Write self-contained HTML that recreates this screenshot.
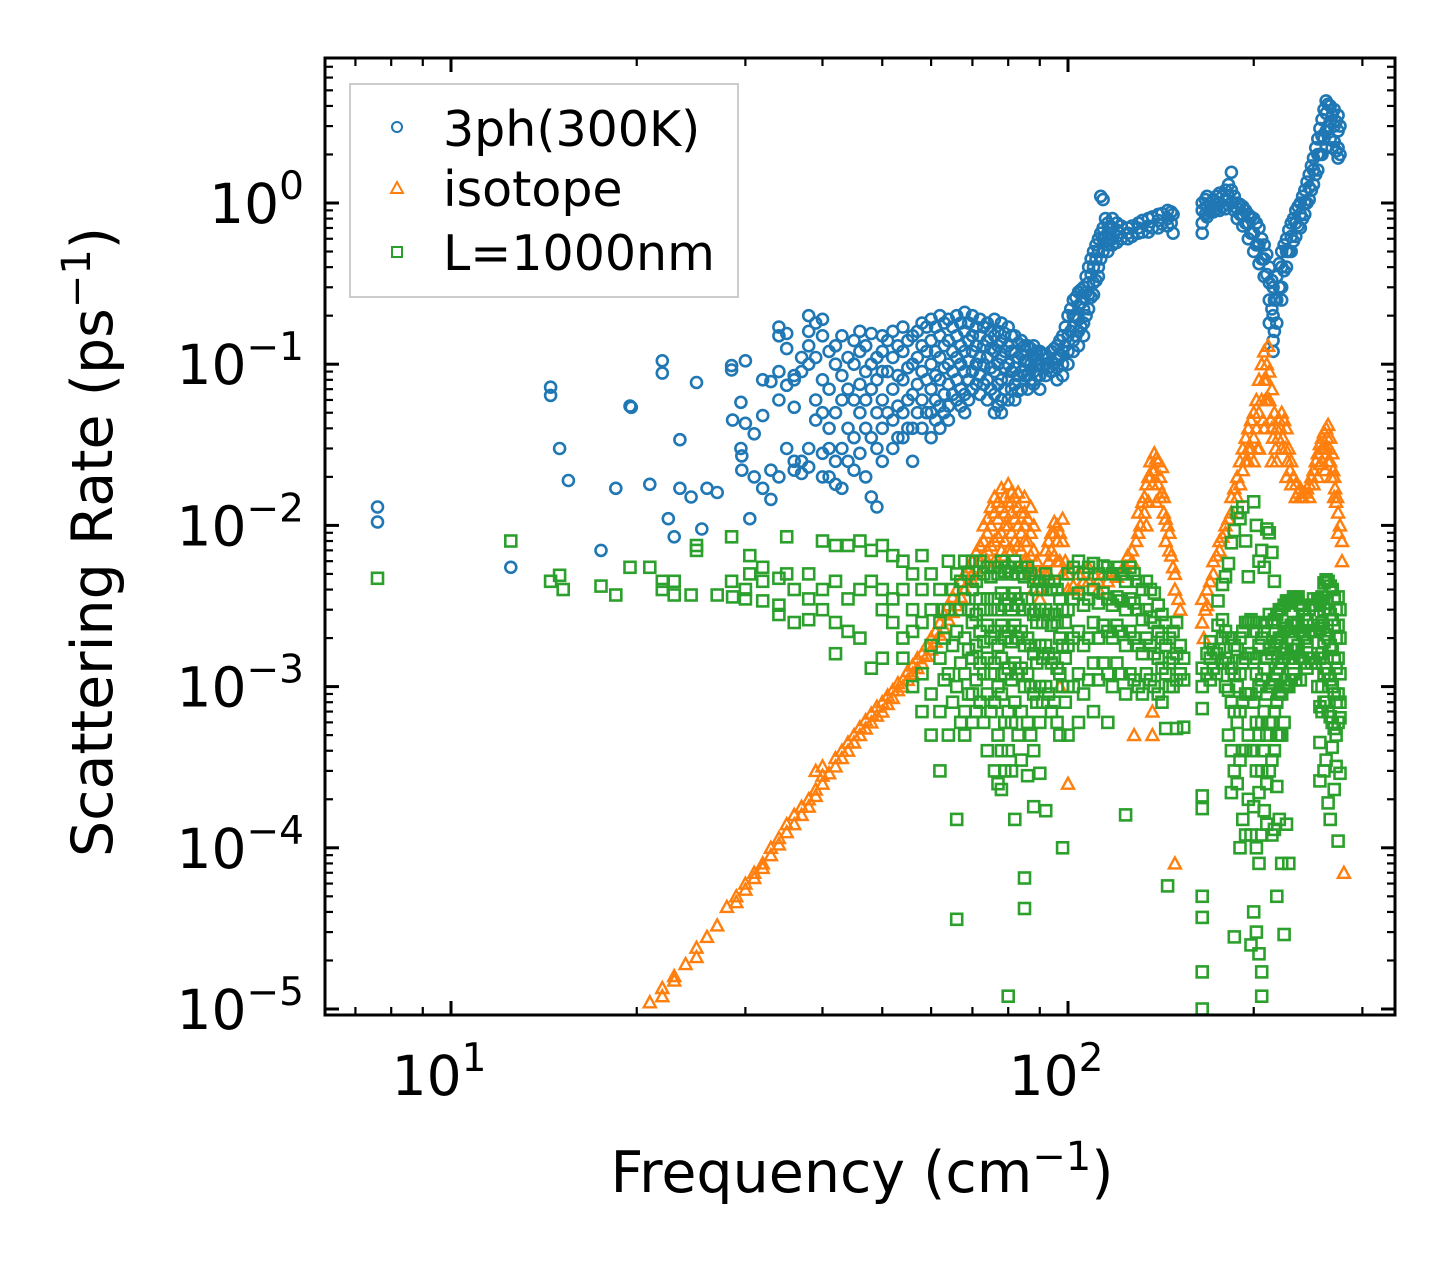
<!DOCTYPE html>
<html><head><meta charset="utf-8"><style>
body{margin:0;background:#fff}
svg text{font-family:"DejaVu Sans","Liberation Sans",sans-serif;fill:#000}
</style></head><body>
<svg id="chart" width="1455" height="1265" viewBox="0 0 1455 1265" xmlns="http://www.w3.org/2000/svg">
<rect width="1455" height="1265" fill="#fff"/>
<g id="marks"></g>
<g id="axes"></g>
<text x="862" y="1192" font-size="57" text-anchor="middle">Frequency (cm<tspan dy="-22" font-size="40">−1</tspan><tspan dy="22">)</tspan></text>
<text transform="translate(112,542) rotate(-90)" font-size="57" text-anchor="middle">Scattering Rate (ps<tspan dy="-22" font-size="40">−1</tspan><tspan dy="22">)</tspan></text>
<g>
<rect x="350" y="84" width="388" height="213" fill="#fff" fill-opacity="0.8" stroke="#ccc" stroke-width="2"/>
<circle cx="397" cy="127" r="5" fill="none" stroke="#1f77b4" stroke-width="2"/>
<text x="443" y="146" font-size="49">3ph(300K)</text>
<path d="M391,193 L403,193 L397,182 Z" fill="none" stroke="#ff7f0e" stroke-width="2"/>
<text x="443" y="206" font-size="49">isotope</text>
<rect x="392" y="247" width="10" height="10" fill="none" stroke="#2ca02c" stroke-width="2"/>
<text x="443" y="270" font-size="49">L=1000nm</text>
</g>
</svg>
<script>
// data: flat [frequency, rate, ...] pairs
const threePh = [7.6,.013,7.6,.0105,12.5,.0055,14.5,.072,14.5,.064,15,.03,15.5,.019,17.5,.007,18.5,.017,19.5,.055,19.6,.054,21,.018,22,.105,22,.088,22.5,.011,23,.0085,23.5,.034,23.5,.017,24.5,.015,25,.077,25.5,.0095,26,.017,27,.016,28.5,.098,28.5,.092,28.6,.045,29.5,.058,29.5,.03,29.6,.027,29.6,.022,30,.105,30,.043,30.5,.011,31,.037,31,.02,32,.048,32,.017,32,.08,33,.0145,33,.078,33,.022,34,.17,34,.15,34,.09,34,.06,34,.02,35,.125,35,.155,35,.074,35,.03,36,.08,36,.054,36,.025,36,.085,36,.022,37,.11,37,.025,37,.021,37,.09,38,.2,38,.16,38,.13,38,.1,38,.03,38,.023,39,.18,39,.11,39,.06,39,.045,40,.19,40,.15,40,.08,40,.05,40,.028,40,.02,41,.12,41,.07,41,.04,41,.02,41,.03,42,.13,42,.1,42,.05,42,.025,42,.018,43,.15,43,.085,43,.06,43,.03,43,.017,44,.11,44,.07,44,.04,44,.025,45,.14,45,.1,45,.06,45,.035,45,.022,46,.16,46,.12,46,.075,46,.05,46,.028,47,.13,47,.09,47,.06,47,.04,47,.02,48,.155,48,.1,48,.07,48,.035,48,.015,49,.11,49,.08,49,.05,49,.03,49,.013,50,.15,50,.12,50,.09,50,.06,50,.04,50,.025,
51,.14,51,.09,51,.05,52,.16,52,.11,52,.07,52,.045,52,.03,53,.13,53,.085,53,.055,53,.035,54,.17,54,.12,54,.08,54,.05,54,.035,55,.14,55,.095,55,.06,55,.04,56,.15,56,.1,56,.065,56,.04,56,.025,57,.16,57,.11,57,.075,57,.05,58,.18,58,.13,58,.09,58,.06,58,.04,59,.17,59,.12,59,.08,59,.05,60,.19,60,.14,60,.1,60,.07,60,.05,60,.035,61,.17,61,.12,61,.085,61,.06,61,.045,62,.2,62,.15,62,.11,62,.08,62,.055,62,.04,63,.18,63,.13,63,.095,63,.065,63,.05,64,.19,64,.14,64,.1,64,.075,64,.055,64,.045,65,.17,65,.12,65,.09,65,.065,66,.2,66,.15,66,.11,66,.08,66,.06,67,.18,67,.13,67,.1,67,.07,67,.055,68,.21,68,.16,68,.12,68,.09,68,.065,68,.05,69,.18,69,.14,69,.105,69,.08,69,.06,70,.2,70,.15,70,.12,70,.09,70,.07,71,.17,71,.13,71,.1,71,.075,72,.19,72,.15,72,.11,72,.085,72,.065,73,.17,73,.13,73,.1,73,.075,74,.18,74,.14,74,.11,74,.08,74,.06,75,.16,75,.125,75,.095,75,.07,76,.19,76,.15,76,.12,76,.09,76,.065,76,.05,77,.16,77,.13,77,.1,77,.075,77,.055,78,.18,78,.14,78,.11,78,.08,78,.06,78,.05,79,.155,79,.12,79,.095,79,.07,80,.17,80,.13,80,.1,80,.08,80,.06,81,.15,81,.12,81,.09,81,.07,82,.15,82,.12,82,.095,82,.075,82,.06,83,.135,83,.11,83,.085,83,.068,84,.14,84,.115,84,.09,84,.07,85,.13,85,.105,85,.085,86,.13,86,.105,86,.085,86,.07,87,.125,87,.1,87,.08,88,.13,88,.11,88,.09,88,.075,89,.12,89,.1,89,.085,90,.12,90,.1,90,.085,90,.07,91,.115,91,.095,92,.115,92,.1,92,.085,93,.11,93,.095,94,.12,94,.105,94,.09,95,.125,95,.1,96,.13,96,.11,96,.095,96,.08,97,.14,97,.115,98,.15,98,.12,98,.1,98,.085,99,.17,99,.13,100,.2,100,.15,100,.12,100,.1,101,.22,101,.16,102,.25,102,.2,102,.17,102,.14,102,.12,103,.26,103,.2,103,.15,104,.28,104,.23,104,.19,104,.16,104,.13,105,.29,105,.24,105,.17,106,.3,106,.26,106,.22,106,.18,106,.15,107,.35,107,.28,107,.2,108,.4,108,.32,108,.27,108,.22,109,.45,109,.36,109,.26,110,.5,110,.4,110,.32,110,.27,111,.55,111,.45,111,.33,112,.6,112,.5,112,.4,112,.35,113,1.1,113,.65,113,.45,114,1.05,114,.7,114,.6,114,.5,115,.8,115,.62,116,.75,116,.65,116,.55,116,.5,117,.72,117,.6,118,.8,118,.7,118,.6,118,.55,120,.75,120,.68,120,.62,120,.57,122,.72,122,.6,125,.7,125,.65,125,.6,127,.72,127,.62,130,.75,130,.7,130,.65,132,.78,132,.66,135,.8,135,.72,135,.66,137,.82,137,.7,140,.85,140,.78,140,.7,142,.86,142,.74,145,.9,145,.8,145,.72,147,.88,147,.75,148,.85,148,.65,
165,1.0,165,.9,165,.75,165,.65,167,1.05,167,.85,168,1.1,168,.95,168,.82,170,1.0,170,.88,172,1.05,172,.95,172,.88,174,1.1,174,.92,176,1.15,176,1.0,176,.9,178,1.1,178,.95,180,1.2,180,1.05,180,.92,182,1.3,182,1.1,184,1.55,184,1.2,184,1.0,186,1.1,186,.9,188,1.0,188,.92,188,.8,190,.98,190,.85,192,.95,192,.85,192,.72,194,.9,194,.75,196,.85,196,.75,196,.6,198,.82,198,.65,200,.8,200,.65,200,.5,202,.75,202,.55,204,.7,204,.55,204,.42,206,.6,206,.45,208,.55,208,.45,208,.35,210,.48,210,.36,212,.4,212,.32,212,.25,212,.18,214,.33,214,.22,215,.3,215,.2,215,.14,215,.12,216,.25,216,.16,218,.35,218,.25,218,.18,220,.42,220,.3,222,.5,222,.4,222,.3,222,.25,224,.55,224,.38,226,.6,226,.5,226,.4,228,.68,228,.5,230,.75,230,.62,230,.5,232,.8,232,.58,234,.9,234,.75,234,.62,236,.95,236,.72,238,1.0,238,.85,238,.7,240,1.1,240,.8,242,1.2,242,1.0,242,.85,244,1.35,244,1.0,246,1.5,246,1.25,246,1.05,248,1.7,248,1.2,250,1.9,250,1.6,250,1.3,252,2.2,252,1.5,254,2.5,254,2.0,254,1.6,256,2.9,256,2.0,258,3.3,258,2.6,258,2.0,260,3.8,260,2.5,262,4.3,262,3.6,262,2.8,262,2.2,264,4.1,264,3.0,266,4.0,266,3.2,266,2.5,268,3.5,268,2.2,270,3.8,270,3.0,270,2.4,272,3.2,272,2.1,274,3.5,274,2.8,274,2.2,274,1.9,276,3.0,276,2.0];
const isotope = [21,1.1e-5,22,1.35e-5,22,1.2e-5,23,1.6e-5,23,1.5e-5,24,1.9e-5,25,2.4e-5,25,2.1e-5,26,2.8e-5,27,3.3e-5,28,4.3e-5,29,4.6e-5,29,5e-5,30,5.5e-5,30,6e-5,31,6.5e-5,31,7e-5,32,7.5e-5,32,8e-5,33,9e-5,33,1e-4,34,1.05e-4,34,1.15e-4,35,1.25e-4,35,1.4e-4,36,1.4e-4,36,1.6e-4,37,1.8e-4,37,1.6e-4,38,2e-4,38,1.8e-4,39,2.3e-4,39,2.1e-4,39,3e-4,40,2.5e-4,40,2.8e-4,40,3.2e-4,41,2.9e-4,42,3.2e-4,42,3.6e-4,43,3.6e-4,43,4e-4,44,4e-4,44,4.5e-4,45,4.5e-4,45,5e-4,46,5e-4,46,5.6e-4,47,5.5e-4,47,6.2e-4,48,6e-4,48,6.8e-4,49,6.6e-4,49,7.5e-4,50,7e-4,50,8e-4,51,7.8e-4,51,8.8e-4,52,8.5e-4,52,9.5e-4,53,9.5e-4,53,1.05e-3,54,1e-3,54,1.1e-3,55,1.1e-3,55,1.25e-3,56,1.2e-3,56,1.35e-3,57,1.3e-3,57,1.5e-3,58,1.4e-3,58,1.6e-3,59,1.55e-3,59,1.8e-3,60,1.7e-3,60,2e-3,61,1.9e-3,61,2.2e-3,62,2.1e-3,62,2.5e-3,63,2.3e-3,63,2.8e-3,64,2.6e-3,64,3.2e-3,65,2.9e-3,65,3.6e-3,66,3.2e-3,66,4e-3,67,3.6e-3,67,4.5e-3,68,4e-3,68,5e-3,69,4.5e-3,69,5.5e-3,70,5e-3,70,6e-3,70,4.5e-3,71,5.5e-3,71,6.8e-3,72,6e-3,72,7.5e-3,72,5e-3,73,6.5e-3,73,8e-3,73,1e-2,74,7e-3,74,9e-3,74,1.1e-2,74,6e-3,75,7.5e-3,75,1e-2,75,1.3e-2,76,8e-3,76,1.2e-2,76,1.5e-2,76,6e-3,77,8.5e-3,77,1.1e-2,77,1.4e-2,78,9e-3,78,1.3e-2,78,1.7e-2,78,7e-3,79,1e-2,79,1.5e-2,80,1e-2,80,1.4e-2,80,1.8e-2,80,7e-3,81,1.2e-2,81,1.6e-2,82,1.1e-2,82,1.5e-2,82,8e-3,83,1e-2,83,1.3e-2,84,9e-3,84,1.2e-2,84,7e-3,85,8e-3,85,1e-2,86,6e-3,86,8e-3,87,5e-3,87,6.5e-3,88,5e-3,88,4e-3,89,4.5e-3,90,4e-3,90,3.5e-3,90,5e-3,91,4.5e-3,92,5e-3,92,7e-3,93,6e-3,93,8e-3,94,7e-3,94,9e-3,95,9e-3,95,1.05e-2,96,1e-2,96,8e-3,96,6e-3,97,9e-3,97,1e-3,98,8e-3,98,5e-3,99,6e-3,100,4e-3,100,2.5e-4,100,5e-3,102,4.2e-3,104,4e-3,104,5e-3,106,4.5e-3,108,4.5e-3,108,5.5e-3,110,5e-3,112,4.5e-3,112,4e-3,114,5e-3,116,5e-3,116,4.5e-3,118,5.2e-3,120,4.8e-3,122,5.2e-3,124,5.5e-3,125,6.5e-3,127,7e-3,127,6e-3,128,5e-4,129,8e-3,130,9e-3,130,1.2e-2,131,1e-2,132,1.4e-2,133,1.5e-2,133,1.2e-2,134,1.8e-2,135,2e-2,136,2e-2,136,2.5e-2,137,7e-4,137,5e-4,137,2.2e-2,138,2.8e-2,138,2.2e-2,139,2.6e-2,140,2.5e-2,140,1.8e-2,141,2e-2,142,1.6e-2,143,1.5e-2,143,1.2e-2,144,1.1e-2,145,1e-2,146,9e-3,146,7e-3,147,6.5e-3,148,5.5e-3,149,5e-3,149,4e-3,149,8e-5,151,3.5e-3,152,3e-3,
73,5.5e-3,75,5.5e-3,77,6e-3,79,6.5e-3,79,8e-3,79,1.2e-2,81,7e-3,81,9e-3,81,1.4e-2,83,7.5e-3,83,1.6e-2,85,6e-3,85,1.2e-2,85,1.5e-2,86,1.1e-2,87,9e-3,87,1.3e-2,88,7e-3,88,1e-2,89,6e-3,93,5e-3,95,6.5e-3,97,6e-3,98,1.1e-2,134,1e-2,135,1.4e-2,137,1.8e-2,139,1.4e-2,141,1.5e-2,142,2.3e-2,144,8e-3,
165,2.5e-3,165,3.5e-3,166,2e-3,167,3e-3,168,4e-3,168,3.2e-3,170,4.5e-3,172,5e-3,172,6e-3,174,6.5e-3,176,7e-3,176,8e-3,178,8.5e-3,180,1e-2,180,9e-3,182,1.1e-2,184,1.2e-2,184,1.5e-2,186,1.7e-2,188,2e-2,188,1.5e-2,190,2.5e-2,192,3e-2,192,2.2e-2,194,3.5e-2,196,3e-2,196,4e-2,196,2.5e-2,198,4.5e-2,200,5e-2,200,3.5e-2,200,2.5e-2,202,6e-2,204,8e-2,204,5e-2,204,3e-2,206,1e-1,208,1.2e-1,208,8e-2,208,4e-2,210,1e-1,211,1.3e-1,211,6e-2,212,9e-2,214,7e-2,214,4e-2,214,2.5e-2,216,5e-2,218,4e-2,218,2.5e-2,220,4.5e-2,222,5e-2,222,3e-2,224,4.5e-2,226,4e-2,226,2e-2,228,3e-2,230,2.5e-2,230,1.8e-2,232,2e-2,234,1.8e-2,234,1.5e-2,236,1.6e-2,238,1.5e-2,238,1.7e-2,240,1.5e-2,242,1.6e-2,244,1.7e-2,246,1.8e-2,246,1.5e-2,248,2e-2,250,2.2e-2,250,1.8e-2,252,2.5e-2,254,2.8e-2,254,2e-2,256,3.2e-2,258,3.5e-2,258,2.5e-2,260,3.8e-2,262,4e-2,262,3e-2,264,4.2e-2,266,3.5e-2,266,2.5e-2,268,2.8e-2,270,2e-2,270,1.5e-2,272,1.4e-2,274,1.2e-2,274,9e-3,276,1e-2,278,8e-3,278,6e-3,280,7e-5,
190,1.8e-2,194,2.5e-2,198,3e-2,202,4e-2,203,3e-2,206,6e-2,207,4.5e-2,209,6e-2,210,8e-2,212,6e-2,213,4.5e-2,215,3.5e-2,217,3e-2,219,3.5e-2,221,4e-2,223,3.5e-2,225,3e-2,227,2.5e-2,229,2.2e-2,256,2.4e-2,258,3e-2,260,3e-2,261,2.2e-2,263,3.5e-2,264,2.5e-2,265,3e-2,267,2e-2,269,2.2e-2,271,1.7e-2,273,1.5e-2];
const boundary = [7.6,.0047,12.5,.008,14.5,.0045,15,.0049,15.2,.004,17.5,.0042,18.5,.0037,19.5,.0055,21,.0055,22,.0045,22,.004,23,.0037,23,.0045,24.5,.0037,25,.007,25,.0075,27,.0037,28.5,.0085,28.5,.0045,28.6,.0036,30,.004,30,.0035,30.5,.005,30.5,.0065,32,.0055,32,.0034,32,.0045,34,.0047,34,.0032,34,.0028,35,.005,35,.0085,36,.004,36,.0025,38,.005,38,.0035,38,.0026,40,.008,40,.004,40,.003,42,.0075,42,.0045,42,.0025,42,.0016,44,.0075,44,.0035,44,.0022,46,.008,46,.004,46,.002,48,.007,48,.0045,48,.0013,50,.0075,50,.004,50,.003,50,.0015,52,.0065,52,.0035,52,.0025,54,.006,54,.004,54,.002,54,.0015,56,.005,56,.003,56,.0022,56,.001,58,.0065,58,.004,58,.0025,58,.0012,58,.0007,60,.005,60,.003,60,.0018,60,.0009,60,.0005,62,.004,62,.0025,62,.0015,62,.0007,62,.0003,63,.003,63,.002,63,.0011,64,.006,64,.003,64,.0012,64,.0005,65,.004,65,.0018,65,.0008,66,.005,66,.0022,66,.001,66,.00015,66,.000036,67,.0045,67,.003,67,.0014,67,.0006,68,.006,68,.0035,68,.002,68,.0012,68,.0007,68,.0005,69,.005,69,.003,69,.0017,69,.0009,70,.006,70,.004,70,.0025,70,.0015,70,.0009,70,.0006,71,.0045,71,.0028,71,.0018,71,.0011,71,.0007,72,.006,72,.0035,72,.0022,72,.0014,72,.0008,73,.005,73,.003,73,.0019,73,.0012,73,.0006,74,.0055,74,.0035,74,.0024,74,.0015,74,.0009,74,.0004,75,.0048,75,.003,75,.002,75,.0012,75,.0007,76,.0055,76,.0035,76,.0022,76,.0014,76,.0008,76,.0003,77,.005,77,.003,77,.0018,77,.001,77,.0005,77,.00025,78,.006,78,.0038,78,.0024,78,.0015,78,.0009,78,.0004,78,.00023,79,.0052,79,.0032,79,.002,79,.0012,79,.0006,79,.0003,80,.0055,80,.0035,80,.0022,80,.0013,80,.0007,80,.0004,80,.000012,81,.005,81,.003,81,.0019,81,.0011,81,.0006,81,.0003,82,.006,82,.0038,82,.0024,82,.0014,82,.0008,82,.00015,83,.005,83,.0032,83,.002,83,.0012,83,.0005,84,.0055,84,.0035,84,.0022,84,.0013,84,.0007,84,.00035,85,.0048,85,.003,85,.0018,85,.001,85,.000065,85,.000042,86,.0055,86,.0035,86,.002,86,.0012,86,.0006,86,.00028,87,.005,87,.003,87,.0018,87,.001,87,.0005,88,.0045,88,.0028,88,.0016,88,.0009,88,.0004,88,.00018,89,.004,89,.0025,89,.0014,89,.0008,90,.0045,90,.003,90,.0018,90,.001,90,.0006,90,.00029,91,.004,91,.0025,91,.0015,91,.0008,92,.005,92,.003,92,.0018,92,.001,92,.00017,93,.0045,93,.0028,93,.0016,93,.0009,94,.004,94,.0024,94,.0014,94,.0007,95,.0045,95,.0028,95,.0015,95,.0008,96,.004,96,.0025,96,.0013,96,.0006,97,.0035,97,.002,97,.0012,97,.0005,98,.003,98,.0018,98,.001,98,.0001,99,.0025,99,.0015,99,.0008,100,.005,100,.003,100,.0018,100,.001,100,.0005,102,.0055,102,.0035,102,.002,102,.001,104,.006,104,.0038,104,.0022,104,.0012,104,.0006,106,.005,106,.0032,106,.0018,106,.0009,108,.0055,108,.0035,108,.002,108,.0011,110,.0058,110,.004,110,.0025,110,.0014,110,.0007,112,.005,112,.0033,112,.002,112,.0011,114,.0056,114,.0038,114,.0024,114,.0014,116,.0055,116,.0035,116,.0022,116,.0012,116,.0006,118,.005,118,.0032,118,.002,118,.001,120,.0055,120,.0036,120,.0024,120,.0014,122,.005,122,.0034,122,.0022,122,.0012,124,.0045,124,.003,124,.0018,124,.0009,124,.00016,126,.0055,126,.0035,126,.0022,126,.0012,128,.005,128,.0033,128,.002,128,.0011,130,.0045,130,.003,130,.0018,130,.001,132,.004,132,.0026,132,.0016,132,.0009,134,.0045,134,.003,134,.002,134,.0012,136,.004,136,.0027,136,.0018,136,.0011,138,.0038,138,.0025,138,.0016,138,.001,140,.0032,140,.0022,140,.0015,140,.0009,142,.0028,142,.002,142,.0013,142,.0008,144,.0025,144,.0018,144,.0012,144,.00055,145,.000058,146,.002,146,.0014,146,.001,148,.0022,148,.0015,148,.001,150,.0025,150,.0016,150,.0011,150,.00055,152,.0018,152,.0012,154,.0015,154,.0011,154,.00056,
165,.0013,165,.001,165,.00073,165,.00021,165,.000175,165,.00005,165,.000037,165,.000017,165,.00001,168,.0016,168,.0012,170,.0019,170,.0015,170,.0011,172,.0017,172,.0013,174,.0016,174,.0012,175,.0024,175,.0034,176,.0017,178,.002,178,.0014,178,.0043,178,.0026,180,.0022,180,.0015,180,.001,180,.0048,182,.002,182,.0014,182,.00095,182,.0005,182,.0058,184,.002,184,.0013,184,.0008,184,.0004,184,.00022,184,.0078,186,.0018,186,.0012,186,.0007,186,.0003,186,.000028,186,.0093,188,.0017,188,.001,188,.0006,188,.00025,188,.012,190,.002,190,.0012,190,.0007,190,.00035,190,.0001,190,.011,192,.0022,192,.0014,192,.0008,192,.0004,192,.00015,192,.013,194,.0025,194,.0015,194,.0009,194,.0004,194,.00012,194,.008,196,.0025,196,.0016,196,.0009,196,.0005,196,.0002,196,.0048,198,.0026,198,.0016,198,.0009,198,.0004,198,.00012,198,.000025,200,.0025,200,.0015,200,.0008,200,.0004,200,.00018,200,.00004,200,.014,202,.0022,202,.0012,202,.0006,202,.0003,202,.0001,202,.00003,202,.01,204,.0018,204,.001,204,.0005,204,.00022,204,.00008,204,.000022,204,.006,206,.002,206,.0011,206,.0006,206,.0003,206,.00012,206,.000017,206,.000012,206,.007,208,.0022,208,.0013,208,.0007,208,.0004,208,.00017,208,.0055,210,.0025,210,.0015,210,.0009,210,.0005,210,.00025,210,.00014,210,.0095,212,.0028,212,.0017,212,.001,212,.0006,212,.0003,212,.009,214,.0025,214,.0016,214,.001,214,.0006,214,.00035,214,.00012,214,.0068,216,.0026,216,.0018,216,.0011,216,.0007,216,.0004,216,.00013,216,.0045,218,.0028,218,.0019,218,.0012,218,.0008,218,.0005,218,.00024,218,.00005,220,.003,220,.002,220,.0013,220,.0009,220,.0005,220,.00015,222,.003,222,.002,222,.0014,222,.0009,222,.0005,222,.00008,224,.0032,224,.0022,224,.0015,224,.001,224,.0006,224,.000029,226,.0034,226,.0023,226,.0016,226,.001,226,.00014,228,.0033,228,.0022,228,.0015,228,.001,228,.00008,230,.0034,230,.0024,230,.0017,230,.0011,232,.0036,232,.0025,232,.0017,232,.0012,234,.0035,234,.0024,234,.0017,234,.0011,236,.0036,236,.0025,236,.0018,238,.0032,238,.0022,238,.0015,238,.0011,240,.003,240,.0021,240,.0015,242,.0028,242,.002,242,.0014,244,.0026,244,.0019,244,.0013,246,.003,246,.0022,246,.0015,248,.0032,248,.0022,248,.0014,250,.0035,250,.0024,250,.0015,252,.0032,252,.0022,252,.0014,254,.0035,254,.0024,254,.0016,254,.001,256,.0034,256,.0023,256,.0015,256,.00075,256,.00026,256,.00045,258,.0036,258,.0025,258,.0016,258,.001,258,.0007,260,.0044,260,.003,260,.0019,260,.0012,260,.0008,260,.0003,262,.0046,262,.0033,262,.0021,262,.0013,262,.0008,262,.00035,264,.0045,264,.003,264,.002,264,.0012,264,.0007,264,.00019,266,.0042,266,.0028,266,.0018,266,.0011,266,.00065,266,.00015,268,.004,268,.0026,268,.0017,268,.001,268,.0006,268,.00042,270,.0035,270,.0024,270,.0015,270,.0009,270,.00055,270,.00023,272,.003,272,.002,272,.0013,272,.0008,272,.0005,272,.00032,274,.0036,274,.0024,274,.0015,274,.0009,274,.0006,274,.00011,276,.003,276,.002,276,.0012,276,.0008,276,.00064,276,.00029];
const xTicks = [10, 100];
const xTickLabels = ["1", "2"];
const yTicks = [1, 0.1, 0.01, 0.001, 1e-4, 1e-5];
const yTickLabels = ["0", "−1", "−2", "−3", "−4", "−5"];

const NS = "http://www.w3.org/2000/svg";
const L = 325, R = 1395, T = 58, B = 1015;
const xDec = 617, x10 = 451, yDec = 161.2, y1 = 203;
function xs(f){ return x10 + (Math.log10(f) - 1) * xDec; }
function ys(r){ return y1 - Math.log10(r) * yDec; }
function mk(tag, attrs, parent){ const e = document.createElementNS(NS, tag); for (const k in attrs) e.setAttribute(k, attrs[k]); parent.appendChild(e); return e; }

const marks = document.getElementById('marks');
const clip = mk('clipPath', {id:'plotclip'}, marks);
mk('rect', {x:L, y:T, width:R-L, height:B-T}, clip);
marks.setAttribute('clip-path', 'url(#plotclip)');

const gB = mk('g', {fill:'none', stroke:'#1f77b4', 'stroke-width':'2.6'}, marks);


for (let i = 0; i < threePh.length; i += 2) {
  const c = mk('circle', {cx: xs(threePh[i]).toFixed(1), cy: ys(threePh[i+1]).toFixed(1), r: 5.5}, gB);
  
  
}
const gO = mk('g', {fill:'none', stroke:'#ff7f0e', 'stroke-width':'2.4'}, marks);


for (let i = 0; i < isotope.length; i += 2) {
  const x = xs(isotope[i]), y = ys(isotope[i+1]);
  const p = mk('path', {d: `M${(x-6).toFixed(1)},${(y+5).toFixed(1)} L${(x+6).toFixed(1)},${(y+5).toFixed(1)} L${x.toFixed(1)},${(y-6).toFixed(1)} Z`}, gO);
  
  
}
const gG = mk('g', {fill:'none', stroke:'#2ca02c', 'stroke-width':'2.6'}, marks);


for (let i = 0; i < boundary.length; i += 2) {
  const x = xs(boundary[i]), y = ys(boundary[i+1]);
  const s = mk('rect', {x:(x-5.5).toFixed(1), y:(y-5.5).toFixed(1), width:11, height:11}, gG);
  
  
}

const axes = document.getElementById('axes');
const frame = mk('rect', {x:L, y:T, width:R-L, height:B-T, fill:'none', stroke:'#000', 'stroke-width':3}, axes);


for (let d = 0; d <= 2; d++) {
  for (let m = 1; m <= 9; m++) {
    const v = m * Math.pow(10, d); const x = xs(v);
    if (x < L || x > R) continue;
    const len = m === 1 ? 14 : 8, w = m === 1 ? 3 : 2.2;
    const t1 = mk('line', {x1:x, x2:x, y1:B, y2:B-len, stroke:'#000', 'stroke-width':w}, axes);
    
    
    const t2 = mk('line', {x1:x, x2:x, y1:T, y2:T+len, stroke:'#000', 'stroke-width':w}, axes);
    
    
  }
}
xTicks.forEach((v, i) => {
  const t = mk('text', {x: xs(v) - 12, y: 1095, 'font-size': 55, 'text-anchor': 'middle'}, axes);
  
  
  t.textContent = '10';
  const s = mk('tspan', {dy: -24, 'font-size': 39}, t); s.textContent = xTickLabels[i];
});
for (let d = -6; d <= 0; d++) {
  for (let m = 1; m <= 9; m++) {
    const v = m * Math.pow(10, d); const y = ys(v);
    if (y < T || y > B) continue;
    const len = m === 1 ? 14 : 8, w = m === 1 ? 3 : 2.2;
    const t1 = mk('line', {x1:L, x2:L+len, y1:y, y2:y, stroke:'#000', 'stroke-width':w}, axes);
    
    
    const t2 = mk('line', {x1:R, x2:R-len, y1:y, y2:y, stroke:'#000', 'stroke-width':w}, axes);
    
    
  }
}
yTicks.forEach((v, i) => {
  const y = ys(v);
  const t = mk('text', {x: 304, y: y + 20, 'font-size': 55, 'text-anchor': 'end'}, axes);
  
  
  t.textContent = '10';
  const s = mk('tspan', {dy: -24, 'font-size': 39}, t); s.textContent = yTickLabels[i];
});
</script>
</body></html>
